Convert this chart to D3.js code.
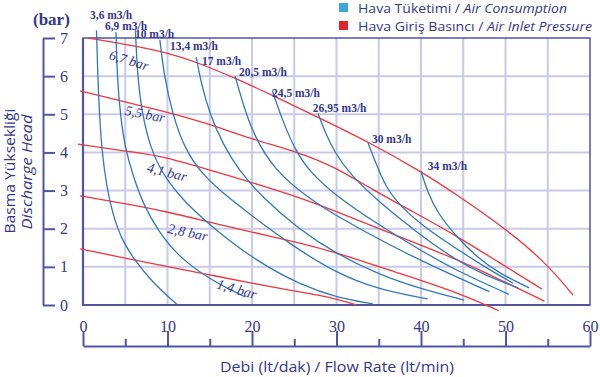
<!DOCTYPE html>
<html><head><meta charset="utf-8">
<script src="https://cdn.jsdelivr.net/npm/d3@7"></script>
<style>body{margin:0;background:#fff}</style>
</head><body>
<svg id="c" width="600" height="377"></svg>
<script>
// ---- data ----
const flowTicks = [0, 10, 20, 30, 40, 50, 60];
const flowRuler = [0, 5, 10, 15, 20, 25, 30, 35, 40, 45, 50, 55, 60];
const flowGrid = [5, 10, 15, 20, 25, 30, 35, 40, 45, 50, 55];
const headTicks = [0, 1, 2, 3, 4, 5, 6, 7];
const headGrid = [1, 2, 3, 4, 5, 6];

const pressureNames = ["6,7 bar", "5,5 bar", "4,1 bar", "2,8 bar", "1,4 bar"];
const p67 = [[0.6,7.0],[5.5,6.82],[10.3,6.6],[13.3,6.38],[18,5.95],[22.4,5.5],[28,4.9],[34,4.25],[40,3.5],[44,2.93],[50,2.0],[54.7,1.13],[58,0.26]];
const p55 = [[-0.35,5.61],[5.5,5.3],[11,5.0],[15,4.74],[19.8,4.36],[25.7,3.99],[29.8,3.62],[34.3,3.02],[39,2.45],[44,1.84],[49,1.15],[54.3,0.42]];
const p41 = [[-0.6,4.22],[5.5,4.02],[9.9,3.88],[15,3.54],[22.1,3.07],[25.7,2.81],[29.8,2.47],[35,2.0],[44,1.23],[49.5,0.65],[54.6,0.1]];
const p28 = [[-0.35,2.86],[5,2.66],[10.06,2.44],[15,2.17],[19.8,1.92],[25.7,1.63],[29.8,1.39],[37,0.86],[44.6,0.31],[49.2,-0.15]];
const p14 = [[-0.35,1.47],[5,1.23],[10.06,1.0],[15,0.79],[19.8,0.58],[25.7,0.34],[29.8,0.18],[32.4,0.0]];

const airNames = ["3,6 m3/h","6,9 m3/h","10 m3/h","13,4 m3/h","17 m3/h","20,5 m3/h","24,5 m3/h","26,95 m3/h","30 m3/h","34 m3/h"];
const a36  = [[1.6,7.2],[1.75,6.0],[1.95,5.0],[2.25,4.0],[2.8,3.1],[3.5,2.4],[4.5,1.75],[6.0,1.2],[8.3,0.57],[11.1,0.02]];
const a69  = [[3.9,7.15],[4.05,6.0],[4.4,5.0],[5.0,4.1],[5.9,3.4],[7.2,2.6],[8.9,1.95],[11.1,1.31],[15,0.66],[19.2,0.21]];
const a10  = [[6.2,7.2],[6.45,6.0],[7.0,5.0],[8.0,4.1],[9.5,3.4],[12.0,2.7],[15.5,2.0],[20.5,1.15],[26,0.5],[30,0.2],[34.3,0.03]];
const a134 = [[9.1,6.95],[9.6,6.0],[10.6,5.0],[12.0,4.1],[14.2,3.4],[17.0,2.85],[20.5,2.25],[24.5,1.6],[29.8,0.85],[35,0.4],[40.8,0.16]];
const a17  = [[13.4,6.5],[14.0,5.8],[15.0,5.0],[16.6,4.2],[18.4,3.54],[21.3,2.8],[25.5,2.0],[29.8,1.36],[35,0.8],[40,0.42],[45.1,0.13]];
const a205 = [[18,6.0],[18.9,5.3],[20.1,4.5],[22.6,3.54],[26.7,2.8],[29.8,2.36],[36,1.6],[42,0.95],[48.1,0.35]];
const a245 = [[22.4,5.62],[23.5,4.9],[25.1,4.06],[26.8,3.5],[29.8,2.88],[35,2.1],[40,1.43],[44,0.92],[50.4,0.28]];
const a2695= [[27.8,5.03],[28.7,4.5],[29.8,4.0],[31.5,3.45],[35,2.7],[40,1.82],[44,1.2],[47.5,0.78],[51.5,0.45]];
const a30  = [[33.7,4.27],[34.6,3.75],[35.8,3.1],[37.5,2.6],[40.7,1.98],[44.6,1.42],[47.5,1.0],[50.9,0.57]];
const a34  = [[40.0,3.51],[40.8,2.95],[42.0,2.4],[44,1.84],[46.6,1.25],[49.5,0.8],[52.8,0.45]];

const pressureSeries = [p67, p55, p41, p28, p14];
const airSeries = [a36, a69, a10, a134, a17, a205, a245, a2695, a30, a34];

// label anchors (data units) and rotation
const pressureLabelAt = [[5.44,6.42,17],[7.34,5.01,11],[9.94,3.49,14],[12.4,1.91,12],[18.2,0.42,16]];
const airLabelAt = [[0.83,7.5],[2.6,7.21],[6.15,6.99],[10.3,6.69],[14.08,6.29],[18.46,6.0],[22.37,5.45],[27.2,5.06],[34.2,4.25],[40.8,3.54]];

// ---- drawing ----
const svg = d3.select("#c");
const x = d3.scaleLinear().domain([0, 60]).range([83, 590]);
const y = d3.scaleLinear().domain([0, 7]).range([305, 38]);

const NAVY = "#33378e", AXIS = "#5155a3", GRID = "#c9c9e8";
const RED = "#f0363c", BLUE = "#2f78bd";
const SERIF = "'Liberation Serif', 'Times New Roman', serif";
const SANS = "'Open Sans', 'DejaVu Sans', sans-serif";

// grid
svg.append("g").attr("class", "grid-x").selectAll("line").data(flowGrid).join("line")
  .attr("x1", d => x(d)).attr("x2", d => x(d)).attr("y1", y(0)).attr("y2", y(7))
  .attr("stroke", GRID).attr("stroke-width", 2);
svg.append("g").attr("class", "grid-y").selectAll("line").data(headGrid).join("line")
  .attr("y1", d => y(d)).attr("y2", d => y(d)).attr("x1", x(0)).attr("x2", x(60))
  .attr("stroke", GRID).attr("stroke-width", 2);

// frame
svg.append("rect").attr("x", x(0)).attr("y", y(7)).attr("width", x(60) - x(0)).attr("height", y(0) - y(7))
  .attr("fill", "none").attr("stroke", AXIS).attr("stroke-width", 1.5);
svg.append("path").attr("d", `M${x(0)},${y(7)}V${y(0)}H${x(60)}`)
  .attr("fill", "none").attr("stroke", AXIS).attr("stroke-width", 2.2);

// left axis
const yAxis = svg.append("g").attr("transform", "translate(43,0)")
  .call(d3.axisRight(y).tickValues(headTicks).tickFormat(d3.format("d")).tickSize(12).tickSizeOuter(0).tickPadding(5));
yAxis.select(".domain").attr("stroke", AXIS).attr("stroke-width", 2);
yAxis.selectAll(".tick line").attr("stroke", AXIS).attr("stroke-width", 2);
yAxis.selectAll("text").attr("fill", NAVY).attr("font-family", SERIF).attr("font-size", 16);

// bottom numbers
const xAxis = svg.append("g").attr("transform", `translate(0,${y(0)})`)
  .call(d3.axisBottom(x).tickValues(flowTicks).tickFormat(d3.format("d")).tickSize(0).tickPadding(16));
xAxis.select(".domain").remove();
xAxis.selectAll("text").attr("fill", NAVY).attr("font-family", SERIF).attr("font-size", 16);

// ruler
const ruler = svg.append("g").attr("transform", "translate(0,346)")
  .call(d3.axisTop(x).tickValues(flowRuler).tickSize(15).tickSizeOuter(0).tickFormat(""));
ruler.select(".domain").attr("stroke", AXIS).attr("stroke-width", 2);
ruler.selectAll(".tick line").attr("stroke", AXIS).attr("stroke-width", 2)
  .attr("y2", d => (d % 10 === 0 ? -15 : -7));

// curves
const line = d3.line().x(d => x(d[0])).y(d => y(d[1])).curve(d3.curveBasis);
svg.append("g").selectAll("path").data(pressureSeries).join("path")
  .attr("d", line).attr("fill", "none").attr("stroke", RED).attr("stroke-width", 1.3);
svg.append("g").selectAll("path").data(airSeries).join("path")
  .attr("d", line).attr("fill", "none").attr("stroke", BLUE).attr("stroke-width", 1.3);

// pressure labels
svg.append("g").selectAll("text").data(pressureNames).join("text")
  .attr("transform", (d, i) => `translate(${x(pressureLabelAt[i][0])},${y(pressureLabelAt[i][1])}) rotate(${pressureLabelAt[i][2]})`)
  .attr("text-anchor", "middle").attr("dy", "0.35em")
  .attr("font-family", SERIF).attr("font-style", "italic")
  .attr("font-size", 14).attr("fill", NAVY).text(d => d);

// air labels
svg.append("g").selectAll("text").data(airNames).join("text")
  .attr("x", (d, i) => x(airLabelAt[i][0])).attr("y", (d, i) => y(airLabelAt[i][1]))
  .attr("font-family", SERIF).attr("font-weight", "bold")
  .attr("font-size", 11.5).attr("fill", NAVY).text(d => d);

// unit
svg.append("text").attr("x", 33).attr("y", 25).text("(bar)")
  .attr("font-family", SERIF).attr("font-weight", "bold")
  .attr("font-size", 17).attr("fill", NAVY);

// titles
svg.append("text").attr("x", 220).attr("y", 372).attr("textLength", 234).attr("lengthAdjust", "spacingAndGlyphs")
  .attr("font-family", SANS).attr("font-size", 15).attr("fill", NAVY)
  .text("Debi (lt/dak) / Flow Rate (lt/min)");
svg.append("text").attr("transform", "translate(15,171) rotate(-90)").attr("text-anchor", "middle")
  .attr("textLength", 125).attr("lengthAdjust", "spacingAndGlyphs")
  .attr("font-family", SANS).attr("font-size", 14).attr("fill", NAVY).text("Basma Yüksekliği");
svg.append("text").attr("transform", "translate(32,172) rotate(-90)").attr("text-anchor", "middle")
  .attr("textLength", 115).attr("lengthAdjust", "spacingAndGlyphs")
  .attr("font-family", SANS).attr("font-style", "italic").attr("font-size", 14.5).attr("fill", NAVY).text("Discharge Head");

// legend
const legendItems = [
  { color: "#3aa6dc", a: "Hava Tüketimi / ", b: "Air Consumption", w: 209 },
  { color: "#e3232b", a: "Hava Giriş Basıncı / ", b: "Air Inlet Pressure", w: 234 }
];
const lg = svg.append("g").selectAll("g").data(legendItems).join("g")
  .attr("transform", (d, i) => `translate(339,${3 + i * 18})`);
lg.append("rect").attr("width", 9).attr("height", 9).attr("fill", d => d.color);
const lt = lg.append("text").attr("x", 19).attr("y", 9.5)
  .attr("textLength", d => d.w).attr("lengthAdjust", "spacingAndGlyphs")
  .attr("font-family", SANS).attr("font-size", 12.5).attr("fill", NAVY);
lt.append("tspan").text(d => d.a);
lt.append("tspan").attr("font-style", "italic").text(d => d.b);
</script>
</body></html>
